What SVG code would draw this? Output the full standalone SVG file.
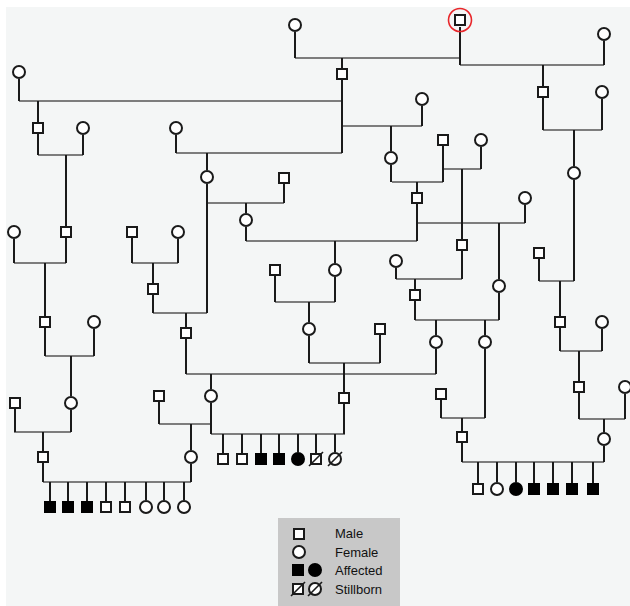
<svg xmlns="http://www.w3.org/2000/svg" width="630" height="606" viewBox="0 0 630 606">
<style>
.bg{fill:#f4f6f6}
.m{fill:#fff;stroke:#1a1a1a;stroke-width:2}
.f{fill:#fff;stroke:#1a1a1a;stroke-width:2}
.a{fill:#000;stroke:#000;stroke-width:2}
.sb{fill:none;stroke:#1a1a1a;stroke-width:1.6}
.v{fill:none;stroke:#1a1a1a;stroke-width:2}
.h{fill:none;stroke:#7d7d7d;stroke-width:2}
.lg{fill:#c8c8c8}
.t{font-family:"Liberation Sans",Arial,sans-serif;font-size:13px;fill:#111}
</style>
<rect class="bg" x="6" y="7" width="624" height="599"/>

<g id="connectors">
<path class="h" d="M295 58H460M460 65H604M19 101H342M342 126H422M176 153H342M543 130H602M38 155H83M207 203H284M443 169H481M392 182H443M246 241H417M417 223H525M14 263H66M132 263H178M539 281H574M396 279H462M275 302H335M153 313H207M415 320H499M560 351H602M45 356H94M309 363H380M186 374H436M441 418H485M579 419H625M159 424H211M14 432H71M211 434H345M462 462H604M43 482H191"/>
<path class="v" d="M295 32V58M460 27V65M604 41V65M342 58V68M342 80V153M543 65V86M543 98V130M19 79V101M422 106V126M176 135V153M38 101V122M38 134V155M83 135V155M66 155V226M66 238V263M14 239V263M45 263V316M45 328V356M94 329V356M71 356V396M71 410V432M15 409V432M43 432V451M43 463V482M191 424V450M191 464V482"/>
<path class="v" d="M50 482V501M68 482V501M87 482V501M106 482V501M125 482V501M146 482V500M164 482V500M184 482V500"/>
<path class="v" d="M602 99V130M574 130V166M574 180V281M391 126V151M391 165V182M443 146V182M481 147V169M462 169V239M462 251V279M417 182V192M417 204V241M525 205V223M499 223V279M499 293V320M396 268V279M415 279V289M415 301V320M436 320V335M436 349V374M485 320V335M485 349V418M441 400V418M462 418V431M462 443V462M604 419V432M604 446V462"/>
<path class="v" d="M478 462V483M497 462V482M516 462V482M534 462V483M553 462V483M572 462V483M593 462V483"/>
<path class="v" d="M579 351V381M579 393V419M625 394V419M560 281V316M560 328V351M602 329V351M539 259V281M207 153V170M207 184V313M284 184V203M246 203V213M246 227V241M335 241V263M335 277V302M275 276V302M309 302V322M309 336V363M380 335V363M344 363V392M344 404V434M186 313V327M186 339V374M153 263V283M153 295V313M132 238V263M178 239V263M211 374V389M211 403V434M159 402V424"/>
<path class="v" d="M223 434V453M242 434V453M261 434V453M279 434V453M298 434V452M316 434V453M335 434V452"/>
</g>

<g id="proband"><rect class="m" x="455" y="15" width="10" height="10"/><circle cx="460" cy="20" r="11.5" fill="none" stroke="#e8262a" stroke-width="1.6"/></g>
<g id="f295"><circle class="f" cx="295" cy="25" r="6"/></g>
<g id="f604top"><circle class="f" cx="604" cy="34" r="6"/></g>
<g id="m342"><rect class="m" x="337" y="69" width="10" height="10"/></g>
<g id="m543"><rect class="m" x="538" y="87" width="10" height="10"/></g>
<g id="f602a"><circle class="f" cx="602" cy="92" r="6"/></g>
<g id="f19"><circle class="f" cx="19" cy="72" r="6"/></g>
<g id="f422"><circle class="f" cx="422" cy="99" r="6"/></g>
<g id="f176"><circle class="f" cx="176" cy="128" r="6"/></g>
<g id="m38"><rect class="m" x="33" y="123" width="10" height="10"/></g>
<g id="f83"><circle class="f" cx="83" cy="128" r="6"/></g>
<g id="f574"><circle class="f" cx="574" cy="173" r="6"/></g>
<g id="f391"><circle class="f" cx="391" cy="158" r="6"/></g>
<g id="m443"><rect class="m" x="438" y="135" width="10" height="10"/></g>
<g id="f481"><circle class="f" cx="481" cy="140" r="6"/></g>
<g id="f207"><circle class="f" cx="207" cy="177" r="6"/></g>
<g id="m284"><rect class="m" x="279" y="173" width="10" height="10"/></g>
<g id="m417"><rect class="m" x="412" y="193" width="10" height="10"/></g>
<g id="f525"><circle class="f" cx="525" cy="198" r="6"/></g>
<g id="f246"><circle class="f" cx="246" cy="220" r="6"/></g>
<g id="m462a"><rect class="m" x="457" y="240" width="10" height="10"/></g>
<g id="f14"><circle class="f" cx="14" cy="232" r="6"/></g>
<g id="m66"><rect class="m" x="61" y="227" width="10" height="10"/></g>
<g id="m132"><rect class="m" x="127" y="227" width="10" height="10"/></g>
<g id="f178"><circle class="f" cx="178" cy="232" r="6"/></g>
<g id="m539"><rect class="m" x="534" y="248" width="10" height="10"/></g>
<g id="f396"><circle class="f" cx="396" cy="261" r="6"/></g>
<g id="m275"><rect class="m" x="270" y="265" width="10" height="10"/></g>
<g id="f335"><circle class="f" cx="335" cy="270" r="6"/></g>
<g id="f499"><circle class="f" cx="499" cy="286" r="6"/></g>
<g id="m153"><rect class="m" x="148" y="284" width="10" height="10"/></g>
<g id="m415"><rect class="m" x="410" y="290" width="10" height="10"/></g>
<g id="m45"><rect class="m" x="40" y="317" width="10" height="10"/></g>
<g id="f94"><circle class="f" cx="94" cy="322" r="6"/></g>
<g id="m560"><rect class="m" x="555" y="317" width="10" height="10"/></g>
<g id="f602b"><circle class="f" cx="602" cy="322" r="6"/></g>
<g id="f309"><circle class="f" cx="309" cy="329" r="6"/></g>
<g id="m380"><rect class="m" x="375" y="324" width="10" height="10"/></g>
<g id="m186"><rect class="m" x="181" y="328" width="10" height="10"/></g>
<g id="f436"><circle class="f" cx="436" cy="342" r="6"/></g>
<g id="f485"><circle class="f" cx="485" cy="342" r="6"/></g>
<g id="m579"><rect class="m" x="574" y="382" width="10" height="10"/></g>
<g id="f625"><circle class="f" cx="625" cy="387" r="6"/></g>
<g id="m344"><rect class="m" x="339" y="393" width="10" height="10"/></g>
<g id="m441"><rect class="m" x="436" y="389" width="10" height="10"/></g>
<g id="m15"><rect class="m" x="10" y="398" width="10" height="10"/></g>
<g id="f71"><circle class="f" cx="71" cy="403" r="6"/></g>
<g id="m159"><rect class="m" x="154" y="391" width="10" height="10"/></g>
<g id="f211"><circle class="f" cx="211" cy="396" r="6"/></g>
<g id="m462b"><rect class="m" x="457" y="432" width="10" height="10"/></g>
<g id="f604b"><circle class="f" cx="604" cy="439" r="6"/></g>
<g id="m43"><rect class="m" x="38" y="452" width="10" height="10"/></g>
<g id="f191"><circle class="f" cx="191" cy="457" r="6"/></g>

<g id="sibs1">
<rect class="a" x="45" y="502" width="10" height="10"/>
<rect class="a" x="63" y="502" width="10" height="10"/>
<rect class="a" x="82" y="502" width="10" height="10"/>
<rect class="m" x="101" y="502" width="10" height="10"/>
<rect class="m" x="120" y="502" width="10" height="10"/>
<circle class="f" cx="146" cy="507" r="6"/>
<circle class="f" cx="164" cy="507" r="6"/>
<circle class="f" cx="184" cy="507" r="6"/>
</g>
<g id="sibs2">
<rect class="m" x="218" y="454" width="10" height="10"/>
<rect class="m" x="237" y="454" width="10" height="10"/>
<rect class="a" x="256" y="454" width="10" height="10"/>
<rect class="a" x="274" y="454" width="10" height="10"/>
<circle class="a" cx="298" cy="459" r="6"/>
<rect class="m" x="311" y="454" width="10" height="10"/><path class="sb" d="M309 466L323 452"/>
<circle class="f" cx="335" cy="459" r="6"/><path class="sb" d="M328 466L342 452"/>
</g>
<g id="sibs3">
<rect class="m" x="473" y="484" width="10" height="10"/>
<circle class="f" cx="497" cy="489" r="6"/>
<circle class="a" cx="516" cy="489" r="6"/>
<rect class="a" x="529" y="484" width="10" height="10"/>
<rect class="a" x="548" y="484" width="10" height="10"/>
<rect class="a" x="567" y="484" width="10" height="10"/>
<rect class="a" x="588" y="484" width="10" height="10"/>
</g>

<g id="legend">
<rect class="lg" x="278" y="518" width="122" height="88"/>
<rect class="m" x="294" y="529" width="10" height="10"/>
<circle class="f" cx="299" cy="552" r="6"/>
<rect class="a" x="293" y="565" width="10" height="10"/>
<circle class="a" cx="315" cy="570" r="6"/>
<rect class="m" x="293" y="584" width="10" height="10"/><path class="sb" d="M291 596L305 582"/>
<circle class="f" cx="315" cy="589" r="6"/><path class="sb" d="M308 596L322 582"/>
<text class="t" x="335" y="538">Male</text>
<text class="t" x="335" y="557">Female</text>
<text class="t" x="335" y="575">Affected</text>
<text class="t" x="335" y="594">Stillborn</text>
</g>
</svg>
